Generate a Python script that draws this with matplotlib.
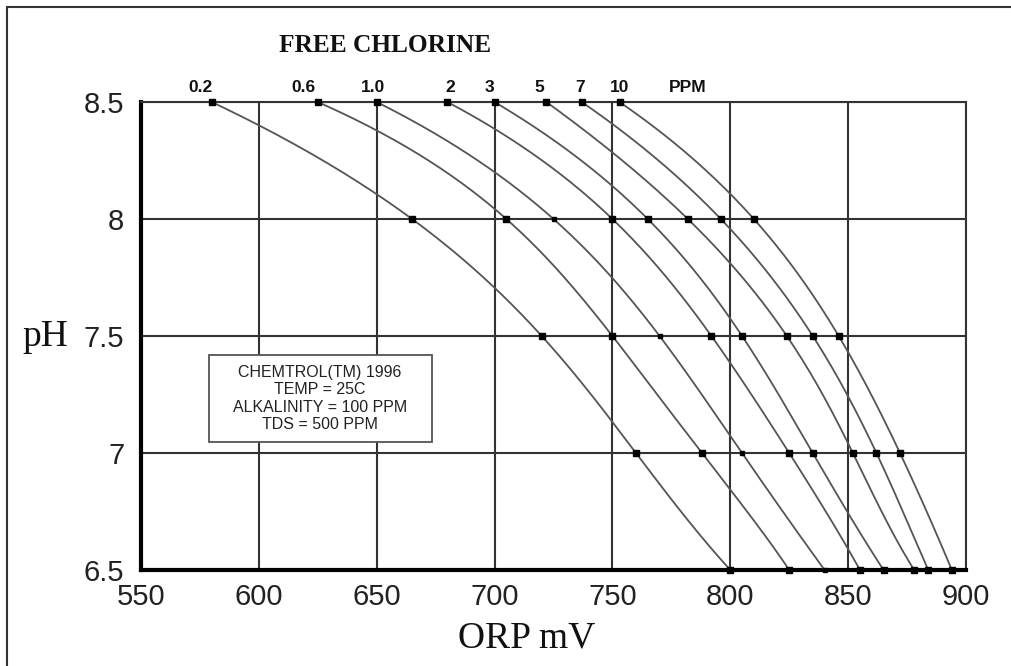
import numpy as np
import matplotlib
matplotlib.use("Agg")
import matplotlib.pyplot as plt
import matplotlib.patches as patches

# pH levels where points were read
ph = [8.5, 8.0, 7.5, 7.0, 6.5]

# free chlorine labels (ppm) and ORP readings (mV) at each pH
ppm_labels = ["0.2", "0.6", "1.0", "2", "3", "5", "7", "10"]
orp_02 = [580, 665, 720, 760, 800]
orp_06 = [625, 705, 750, 788, 825]
orp_10 = [650, 725, 770, 805, 840]
orp_2 = [680, 750, 792, 825, 855]
orp_3 = [700, 765, 805, 835, 865]
orp_5 = [722, 782, 824, 852, 878]
orp_7 = [737, 796, 835, 862, 884]
orp_10ppm = [753, 810, 846, 872, 894]
series = [orp_02, orp_06, orp_10, orp_2, orp_3, orp_5, orp_7, orp_10ppm]

x_ticks = [550, 600, 650, 700, 750, 800, 850, 900]
y_ticks = [6.5, 7, 7.5, 8, 8.5]
y_ticklabels = ["6.5", "7", "7.5", "8", "8.5"]

note = "CHEMTROL(TM) 1996\nTEMP = 25C\nALKALINITY = 100 PPM\nTDS = 500 PPM"

plt.rcParams["font.family"] = ["Liberation Sans", "DejaVu Sans"]

fig = plt.figure(figsize=(10.11, 6.66), dpi=100)
ax = fig.add_axes([0.1395, 0.1441, 0.8160, 0.7027])

# outer frame of the picture (only left and top edges are visible)
fig.patches.append(patches.Rectangle((7 / 1011, -0.1), 1.2, 1.1 - 7 / 666,
                                     transform=fig.transFigure, fill=False,
                                     edgecolor="#333333", linewidth=1.5))

ax.set_xlim(550, 900)
ax.set_ylim(6.5, 8.5)
ax.set_xticks(x_ticks)
ax.set_yticks(y_ticks)
ax.set_yticklabels(y_ticklabels)
ax.tick_params(length=0, labelsize=21, colors="#222222")
ax.tick_params(axis="x", pad=9)
ax.tick_params(axis="y", pad=12)
ax.grid(True, color="#333333", linewidth=1.5)
ax.set_axisbelow(True)

for side in ["top", "right"]:
    ax.spines[side].set_color("#333333")
    ax.spines[side].set_linewidth(1.5)
for side in ["left", "bottom"]:
    ax.spines[side].set_color("black")
    ax.spines[side].set_linewidth(3)

ph_arr = np.array(ph)
yy = np.linspace(6.5, 8.5, 200)
for i, orp in enumerate(series):
    coef = np.polyfit(ph_arr, np.array(orp, float), len(ph) - 1)
    ax.plot(np.polyval(coef, yy), yy, color="#555555", linewidth=1.3, zorder=3,
            clip_on=False)
    ms = 2.5 if ppm_labels[i] == "1.0" else 4.5
    ax.plot(orp[1:], ph[1:], "s", color="black", markersize=ms, zorder=4, clip_on=False)
    ax.plot(orp[:1], ph[:1], "s", color="black", markersize=4.5, zorder=4, clip_on=False)

# concentration labels above the top row
label_shift = [-8, -10, -3, 2, -4, -5, -1, 0]
for i, orp in enumerate(series):
    ax.annotate(ppm_labels[i], (orp[0], 8.5), xytext=(label_shift[i], 5),
                textcoords="offset points", ha="center", va="bottom",
                fontsize=12.5, fontweight="bold", color="#111111")
ax.annotate("PPM", (orp_10ppm[0], 8.5), xytext=(49, 5), textcoords="offset points",
            ha="center", va="bottom", fontsize=12.5, fontweight="bold", color="#111111")

fig.text(385 / 1011, 1 - 46 / 666, "FREE CHLORINE", family=["Liberation Serif"],
         fontsize=18.3, fontweight="bold", ha="center", va="center", color="#111111")

fig.text(527 / 1011, 1 - 638 / 666, "ORP mV", family=["Liberation Serif"], fontsize=27,
         ha="center", va="center", color="#111111")
fig.text(45 / 1011, 1 - 337 / 666, "pH", family=["Liberation Serif"], fontsize=27,
         ha="center", va="center", color="#111111")

ax.add_patch(patches.Rectangle((579, 7.047), 94.5, 0.372, facecolor="white",
                               edgecolor="#555555", linewidth=1.3, zorder=5))
ax.text(626, 7.233, note, ha="center", va="center", fontsize=11.5, color="#222222",
        linespacing=1.2, zorder=6)

fig.savefig("out.png", dpi=100)
